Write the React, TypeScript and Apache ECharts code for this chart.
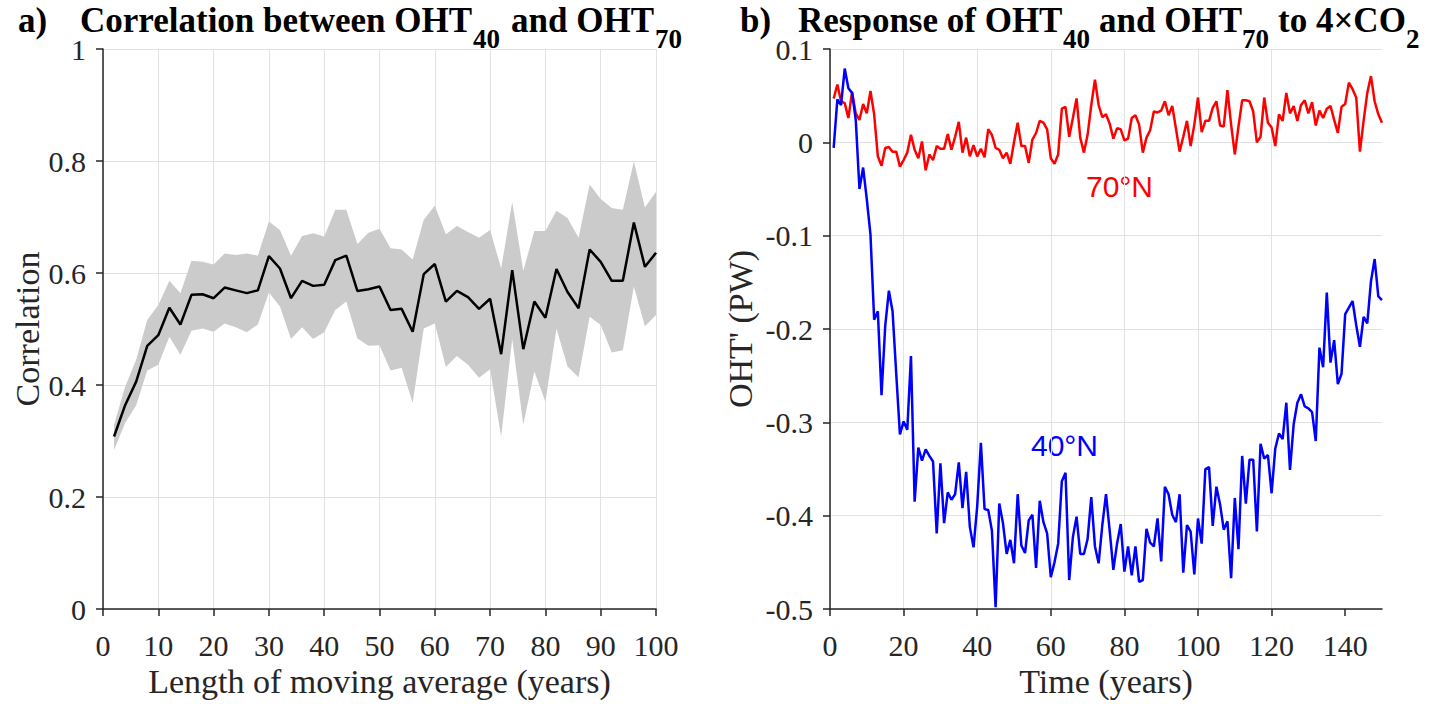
import React, { useEffect, useRef } from 'react';
import * as echarts from 'echarts';

// ---------- Panel a: correlation vs. moving-average length ----------
const lagLengths = [2, 4, 6, 8, 10, 12, 14, 16, 18, 20, 22, 24, 26, 28, 30, 32, 34, 36, 38, 40, 42, 44, 46, 48, 50,
  52, 54, 56, 58, 60, 62, 64, 66, 68, 70, 72, 74, 76, 78, 80, 82, 84, 86, 88, 90, 92, 94, 96, 98, 100];
const corrMean = [0.308, 0.364, 0.406, 0.470, 0.489, 0.538, 0.508, 0.561, 0.562, 0.555, 0.574, 0.569, 0.564, 0.569, 0.630,
  0.608, 0.555, 0.586, 0.577, 0.579, 0.623, 0.631, 0.568, 0.571, 0.576, 0.534, 0.536, 0.495, 0.598, 0.616,
  0.549, 0.568, 0.557, 0.536, 0.554, 0.455, 0.605, 0.464, 0.549, 0.520, 0.607, 0.566, 0.537, 0.642, 0.620,
  0.586, 0.586, 0.690, 0.611, 0.636];
const corrUpper = [0.329, 0.397, 0.445, 0.516, 0.543, 0.586, 0.564, 0.622, 0.620, 0.615, 0.635, 0.632, 0.635, 0.631, 0.692,
  0.677, 0.631, 0.666, 0.671, 0.665, 0.713, 0.713, 0.652, 0.672, 0.679, 0.644, 0.642, 0.624, 0.695, 0.720,
  0.669, 0.684, 0.673, 0.663, 0.677, 0.608, 0.727, 0.604, 0.675, 0.675, 0.711, 0.698, 0.663, 0.758, 0.732,
  0.716, 0.713, 0.799, 0.717, 0.745];
const corrLower = [0.284, 0.332, 0.364, 0.426, 0.436, 0.486, 0.454, 0.497, 0.501, 0.495, 0.510, 0.503, 0.494, 0.508, 0.565,
  0.540, 0.482, 0.503, 0.482, 0.494, 0.534, 0.549, 0.483, 0.470, 0.471, 0.426, 0.431, 0.368, 0.501, 0.510,
  0.432, 0.452, 0.436, 0.413, 0.428, 0.308, 0.482, 0.329, 0.424, 0.370, 0.501, 0.433, 0.414, 0.522, 0.507,
  0.458, 0.462, 0.576, 0.505, 0.525];

// ---------- Panel b: OHT response to 4xCO2 (years 1..150) ----------
const oht70 = [0.047, 0.062, 0.044, 0.042, 0.026, 0.054, 0.031, 0.024, 0.041, 0.031, 0.055, 0.030, -0.015, -0.025, -0.006,
  -0.005, -0.010, -0.010, -0.026, -0.019, -0.011, 0.008, -0.008, -0.017, 0.001, -0.030, -0.013, -0.019, -0.004, -0.007,
  -0.007, 0.009, -0.008, 0.006, 0.022, -0.011, 0.005, -0.015, -0.003, -0.015, -0.007, -0.016, 0.014, 0.008, -0.006,
  -0.008, -0.017, -0.011, -0.023, 0.000, 0.021, -0.004, -0.004, -0.022, 0.003, 0.010, 0.023, 0.021, 0.014, -0.017,
  -0.023, -0.013, 0.036, 0.038, 0.006, 0.026, 0.047, 0.005, -0.011, 0.008, 0.040, 0.067, 0.040, 0.027, 0.030,
  0.020, 0.004, 0.015, 0.014, 0.002, 0.004, 0.026, 0.029, 0.019, -0.011, 0.005, 0.013, 0.033, 0.032, 0.034,
  0.044, 0.029, 0.039, 0.015, -0.010, 0.006, 0.023, -0.004, 0.019, 0.048, 0.011, 0.023, 0.023, 0.037, 0.044,
  0.018, 0.017, 0.056, 0.019, -0.013, 0.017, 0.045, 0.045, 0.044, 0.033, 0.000, 0.006, 0.048, 0.021, 0.016,
  -0.004, 0.030, 0.023, 0.053, 0.031, 0.039, 0.023, 0.040, 0.045, 0.031, 0.043, 0.018, 0.034, 0.026, 0.036,
  0.039, 0.024, 0.010, 0.038, 0.041, 0.064, 0.057, 0.048, -0.010, 0.023, 0.053, 0.071, 0.044, 0.030, 0.021];
const oht40 = [-0.006, 0.046, 0.040, 0.079, 0.058, 0.053, 0.024, -0.050, -0.027, -0.061, -0.099, -0.190, -0.181, -0.271, -0.197,
  -0.159, -0.181, -0.248, -0.313, -0.299, -0.308, -0.229, -0.385, -0.327, -0.341, -0.329, -0.336, -0.342, -0.419, -0.344,
  -0.408, -0.375, -0.383, -0.377, -0.343, -0.392, -0.353, -0.412, -0.434, -0.390, -0.322, -0.393, -0.394, -0.416, -0.498,
  -0.387, -0.408, -0.441, -0.426, -0.451, -0.377, -0.432, -0.440, -0.405, -0.399, -0.456, -0.384, -0.407, -0.419, -0.466,
  -0.450, -0.430, -0.363, -0.354, -0.469, -0.423, -0.401, -0.441, -0.441, -0.425, -0.380, -0.433, -0.451, -0.410, -0.377,
  -0.416, -0.458, -0.430, -0.409, -0.460, -0.433, -0.464, -0.433, -0.471, -0.469, -0.414, -0.429, -0.433, -0.403, -0.449,
  -0.369, -0.377, -0.399, -0.407, -0.377, -0.461, -0.410, -0.417, -0.463, -0.403, -0.430, -0.350, -0.348, -0.411, -0.369,
  -0.388, -0.415, -0.406, -0.467, -0.381, -0.436, -0.336, -0.387, -0.340, -0.340, -0.417, -0.323, -0.339, -0.335, -0.376,
  -0.328, -0.312, -0.318, -0.279, -0.351, -0.302, -0.279, -0.270, -0.283, -0.285, -0.289, -0.320, -0.220, -0.241, -0.161,
  -0.236, -0.212, -0.259, -0.248, -0.184, -0.177, -0.170, -0.196, -0.219, -0.187, -0.194, -0.149, -0.125, -0.165, -0.169];
const years = oht40.map((_, i) => i + 1);

const timeTicks = [0, 20, 40, 60, 80, 100, 120, 140];

const SERIF = "'Liberation Serif', 'Times New Roman', Times, serif";
const SANS = "'Liberation Sans', Arial, Helvetica, sans-serif";
const AX = '#262626';
const GRIDC = '#e2e2e2';

function axisBase() {
  return {
    axisLine: { show: true, onZero: false, lineStyle: { color: AX, width: 1.5 } },
    axisTick: { show: true, inside: false, length: 7, lineStyle: { color: AX, width: 1.5 } },
    splitLine: { show: true, lineStyle: { color: GRIDC, width: 1 } },
    nameTextStyle: { color: AX, fontFamily: SERIF, fontSize: 34 },
  };
}

function txt(text: string, x: number, y: number, size: number, fill: string, family: string, weight: string) {
  return {
    type: 'text',
    x,
    y,
    silent: true,
    style: {
      text,
      fill,
      fontSize: size,
      fontFamily: family,
      fontWeight: weight,
      align: 'left',
      verticalAlign: 'middle',
      textAlign: 'left',
      textVerticalAlign: 'middle',
    },
  };
}

export default function App() {
  const ref = useRef<HTMLDivElement>(null);

  useEffect(() => {
    document.body.style.margin = '0';
    if (!ref.current) return;
    const chart = echarts.init(ref.current, undefined, { renderer: 'svg' });

    const fmtB = (v: number) => {
      const r = Math.round(v * 10) / 10;
      return r === 0 ? '0' : String(r);
    };

    const bandRender = (_params: any, api: any) => {
      const pts: number[][] = [];
      for (let i = 0; i < lagLengths.length; i++) pts.push(api.coord([lagLengths[i], corrUpper[i]]));
      for (let i = lagLengths.length - 1; i >= 0; i--) pts.push(api.coord([lagLengths[i], corrLower[i]]));
      return {
        type: 'polygon',
        shape: { points: pts },
        style: { fill: '#cbcbcb', stroke: 'none' },
        silent: true,
      };
    };

    const option: any = {
      animation: false,
      backgroundColor: '#ffffff',
      grid: [
        { left: 103, top: 49, width: 553, height: 560 },
        { left: 830, top: 49, width: 552, height: 560 },
      ],
      xAxis: [
        {
          ...axisBase(),
          type: 'value', gridIndex: 0, min: 0, max: 100, interval: 10,
          name: 'Length of moving average (years)', nameLocation: 'middle', nameGap: 55,
          axisLabel: { color: AX, fontFamily: SERIF, fontSize: 30, margin: 21 },
        },
        {
          ...axisBase(),
          type: 'value', gridIndex: 1, min: 0, max: 150, interval: 20,
          name: 'Time (years)', nameLocation: 'middle', nameGap: 55,
          axisTick: { show: true, inside: false, length: 7, lineStyle: { color: AX, width: 1.5 }, customValues: timeTicks },
          axisLabel: { color: AX, fontFamily: SERIF, fontSize: 30, margin: 21, customValues: timeTicks },
          splitLine: { show: true, showMaxLine: false, lineStyle: { color: GRIDC, width: 1 } },
        },
      ],
      yAxis: [
        {
          ...axisBase(),
          type: 'value', gridIndex: 0, min: 0, max: 1, interval: 0.2,
          name: 'Correlation', nameLocation: 'middle', nameRotate: 90, nameGap: 50,
          axisLabel: { color: AX, fontFamily: SERIF, fontSize: 30, margin: 17 },
        },
        {
          ...axisBase(),
          type: 'value', gridIndex: 1, min: -0.5, max: 0.1, interval: 0.1,
          name: "OHT' (PW)", nameLocation: 'middle', nameRotate: 90, nameGap: 73,
          axisLabel: { color: AX, fontFamily: SERIF, fontSize: 30, margin: 17, formatter: fmtB },
        },
      ],
      series: [
        {
          type: 'custom', xAxisIndex: 0, yAxisIndex: 0, silent: true,
          data: [[lagLengths[0], corrLower[0]]],
          renderItem: bandRender,
          z: 1,
        },
        {
          type: 'line', xAxisIndex: 0, yAxisIndex: 0,
          data: lagLengths.map((x, i) => [x, corrMean[i]]),
          symbol: 'none', lineStyle: { color: '#000000', width: 2.5 },
          z: 3,
        },
        {
          type: 'line', xAxisIndex: 1, yAxisIndex: 1,
          data: years.map((x, i) => [x, oht70[i]]),
          symbol: 'none', lineStyle: { color: '#ff0000', width: 2.5 },
        },
        {
          type: 'line', xAxisIndex: 1, yAxisIndex: 1,
          data: years.map((x, i) => [x, oht40[i]]),
          symbol: 'none', lineStyle: { color: '#0000ff', width: 2.5 },
        },
      ],
      graphic: [
        // panel a title
        txt('a)', 18, 20.2, 35, '#000', SERIF, 'bold'),
        txt('Correlation between OHT', 80, 20.2, 35, '#000', SERIF, 'bold'),
        txt('40', 473, 38.9, 27, '#000', SERIF, 'bold'),
        txt('and OHT', 511, 20.2, 35, '#000', SERIF, 'bold'),
        txt('70', 655, 38.9, 27, '#000', SERIF, 'bold'),
        // panel b title
        txt('b)', 740, 20.2, 35, '#000', SERIF, 'bold'),
        txt('Response of OHT', 798, 20.2, 35, '#000', SERIF, 'bold'),
        txt('40', 1063, 38.9, 27, '#000', SERIF, 'bold'),
        txt('and OHT', 1099, 20.2, 35, '#000', SERIF, 'bold'),
        txt('70', 1242, 38.9, 27, '#000', SERIF, 'bold'),
        txt('to 4×CO', 1278, 20.2, 35, '#000', SERIF, 'bold'),
        txt('2', 1406, 38.9, 27, '#000', SERIF, 'bold'),
        // annotations
        txt('70°N', 1086, 186.3, 30, '#ff0000', SANS, 'normal'),
        txt('40°N', 1031, 445.6, 30, '#0000ff', SANS, 'normal'),
      ],
    };

    chart.setOption(option);
    return () => {
      chart.dispose();
    };
  }, []);

  return <div ref={ref} style={{ width: 1455, height: 704 }} />;
}
